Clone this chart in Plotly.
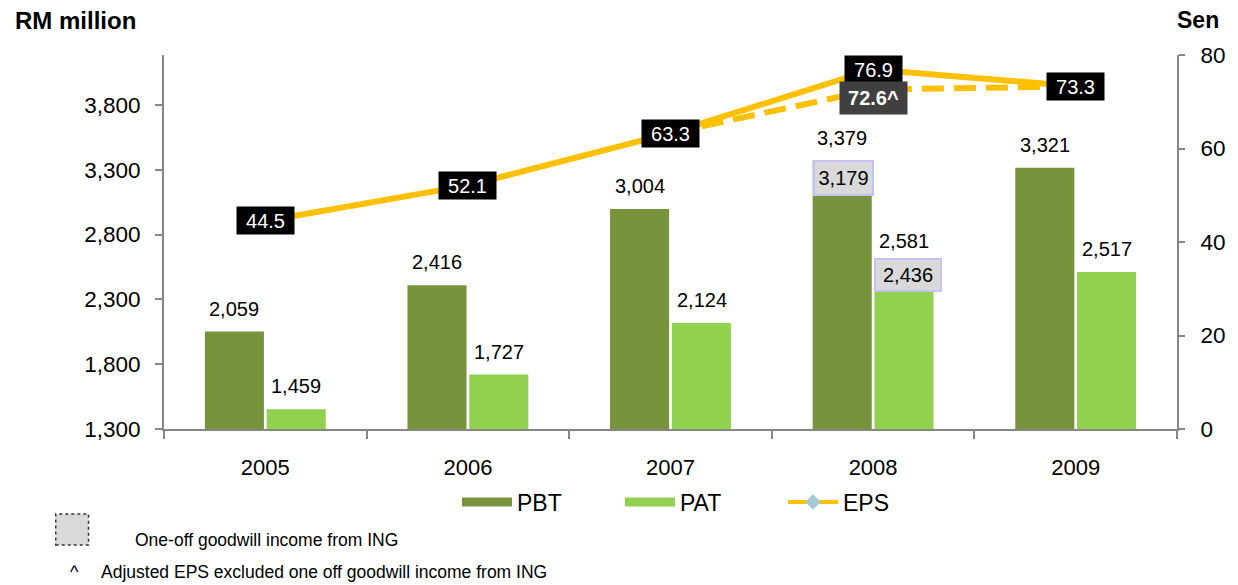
import plotly.graph_objects as go

years = ["2005", "2006", "2007", "2008", "2009"]
pbt = [2059, 2416, 3004, 3379, 3321]
pat = [1459, 1727, 2124, 2581, 2517]
eps = [44.5, 52.1, 63.3, 76.9, 73.3]
eps_adj_years = ["2007", "2008", "2009"]
eps_adj = [63.3, 72.6, 73.3]
pbt_ex_goodwill_2008 = 3179
pat_ex_goodwill_2008 = 2436

C_PBT = "#77933C"
C_PAT = "#92D050"
C_EPS = "#FFC000"
C_AX = "#868686"
FONT = "Liberation Sans, Arial, sans-serif"

# page offset of the figure (browser body margin)
OFFS = 8
FW, FH = 1238 - OFFS, 585 - OFFS
# plot area in page pixels
L, R, T, B = 164, 1184, 55, 429


def px(x):
    return (x - L) / (R - L)


def py(y):
    return (B - y) / (B - T)


def cat(yr):
    return years.index(yr)


fig = go.Figure()
fig.add_trace(go.Bar(x=years, y=pbt, name="PBT", showlegend=False,
                     marker=dict(color=C_PBT, line=dict(color="white", width=1.5))))
fig.add_trace(go.Bar(x=years, y=pat, name="PAT", showlegend=False,
                     marker=dict(color=C_PAT, line=dict(color="white", width=1.5))))
fig.add_trace(go.Scatter(x=eps_adj_years, y=eps_adj, yaxis="y2", mode="lines", showlegend=False,
                         line=dict(color=C_EPS, width=6, dash="22px,10px")))
fig.add_trace(go.Scatter(x=years, y=eps, yaxis="y2", mode="lines", showlegend=False,
                         line=dict(color=C_EPS, width=6)))
# legend entries
fig.add_trace(go.Scatter(x=[years[0]], y=[None], name="PBT", mode="lines", line=dict(color=C_PBT, width=9)))
fig.add_trace(go.Scatter(x=[years[0]], y=[None], name="PAT", mode="lines", line=dict(color=C_PAT, width=9)))
fig.add_trace(go.Scatter(x=[years[0]], y=[None], yaxis="y2", name="EPS", mode="lines+markers",
                         line=dict(color=C_EPS, width=4),
                         marker=dict(symbol="diamond", color="#A5C9D8", size=12)))

ann = []
OFF = 31
for yr, v in zip(years, pbt):
    ann.append(dict(x=cat(yr), y=v, xref="x", yref="y", text=f"{v:,}", showarrow=False,
                    xshift=-OFF, yshift=9, yanchor="bottom", font=dict(size=20, color="black", family=FONT)))
for yr, v in zip(years, pat):
    ann.append(dict(x=cat(yr), y=v, xref="x", yref="y", text=f"{v:,}", showarrow=False,
                    xshift=OFF, yshift=9, yanchor="bottom", font=dict(size=20, color="black", family=FONT)))
# one-off goodwill boxes (2008)
ann.append(dict(x=cat("2008"), y=pbt[3], xref="x", yref="y", text=f"{pbt_ex_goodwill_2008:,}", showarrow=False,
                xshift=-OFF + 1, yanchor="top", width=55, height=30, bgcolor="#D9D9D9",
                bordercolor="#C4C4F4", borderwidth=2, borderpad=1,
                font=dict(size=20, color="black", family=FONT)))
ann.append(dict(x=cat("2008"), y=pat[3], xref="x", yref="y", text=f"{pat_ex_goodwill_2008:,}", showarrow=False,
                xshift=OFF + 4, yshift=5, yanchor="top", width=62, height=28, bgcolor="#D9D9D9",
                bordercolor="#C4C4F4", borderwidth=2, borderpad=1,
                font=dict(size=20, color="black", family=FONT)))
for yr, v in zip(years, eps):
    ann.append(dict(x=cat(yr), y=v, xref="x", yref="y2", text=f"{v}", showarrow=False,
                    width=51, height=21, bgcolor="black", borderpad=3,
                    font=dict(size=20, color="white", family=FONT)))
ann.append(dict(x=cat("2008"), y=eps_adj[1], xref="x", yref="y2", text=f"<b>{eps_adj[1]}^</b>", showarrow=False,
                yshift=-8, width=61, height=26, bgcolor="#404040", borderpad=3,
                font=dict(size=20, color="white", family=FONT)))

ann.append(dict(x=px(12), y=py(20), xref="paper", yref="paper", text="<b>RM million</b>", showarrow=False,
                xanchor="left", yanchor="middle", font=dict(size=24, color="black", family=FONT)))
ann.append(dict(x=px(1228), y=py(20), xref="paper", yref="paper", text="<b>Sen</b>", showarrow=False,
                xanchor="right", yanchor="middle", font=dict(size=23, color="black", family=FONT)))
ann.append(dict(x=px(133), y=py(540), xref="paper", yref="paper", text="One-off goodwill income from ING",
                showarrow=False, xanchor="left", yanchor="middle", font=dict(size=17.5, color="black", family=FONT)))
ann.append(dict(x=px(67), y=py(572), xref="paper", yref="paper", text="^",
                showarrow=False, xanchor="left", yanchor="middle", font=dict(size=18, color="black", family=FONT)))
ann.append(dict(x=px(99), y=py(572), xref="paper", yref="paper",
                text="Adjusted EPS excluded one off goodwill income from ING",
                showarrow=False, xanchor="left", yanchor="middle", font=dict(size=17.5, color="black", family=FONT)))

shapes = [dict(type="rect", xref="paper", yref="paper", x0=px(55), x1=px(88), y0=py(545), y1=py(514),
               fillcolor="#D9D9D9", line=dict(color="#333333", width=1.5, dash="dot"))]

fig.update_layout(
    width=FW, height=FH,
    margin=dict(l=L - OFFS, r=FW - (R - OFFS), t=T - OFFS, b=FH - (B - OFFS)),
    paper_bgcolor="white", plot_bgcolor="white",
    barmode="group", bargap=0.39, bargroupgap=0.02,
    font=dict(family=FONT, size=22, color="black"),
    xaxis=dict(type="category", range=[-0.5, 4.5], showline=True, linecolor=C_AX, linewidth=2, ticks="outside",
               tickson="boundaries", ticklen=8, tickcolor=C_AX, tickwidth=2, showgrid=False,
               tickfont=dict(size=22), ticklabelstandoff=18),
    yaxis=dict(range=[1300, 4186], tickvals=[1300, 1800, 2300, 2800, 3300, 3800], tickformat=",",
               showline=True, linecolor=C_AX, linewidth=2, ticks="outside", ticklen=7, tickcolor=C_AX,
               tickwidth=2, showgrid=False, zeroline=False, tickfont=dict(size=22.5), ticklabelstandoff=10),
    yaxis2=dict(range=[0, 80], dtick=20, overlaying="y", side="right", showline=True, linecolor=C_AX,
                linewidth=2, ticks="outside", ticklen=6, tickcolor=C_AX, tickwidth=2, showgrid=False,
                zeroline=False, tickfont=dict(size=22.5), ticklabelstandoff=11),
    legend=dict(orientation="h", x=px(459), xanchor="left", y=py(502), yanchor="middle",
                font=dict(size=23), entrywidth=98, itemwidth=50),
    annotations=ann, shapes=shapes,
)

fig.write_html("out.html")
